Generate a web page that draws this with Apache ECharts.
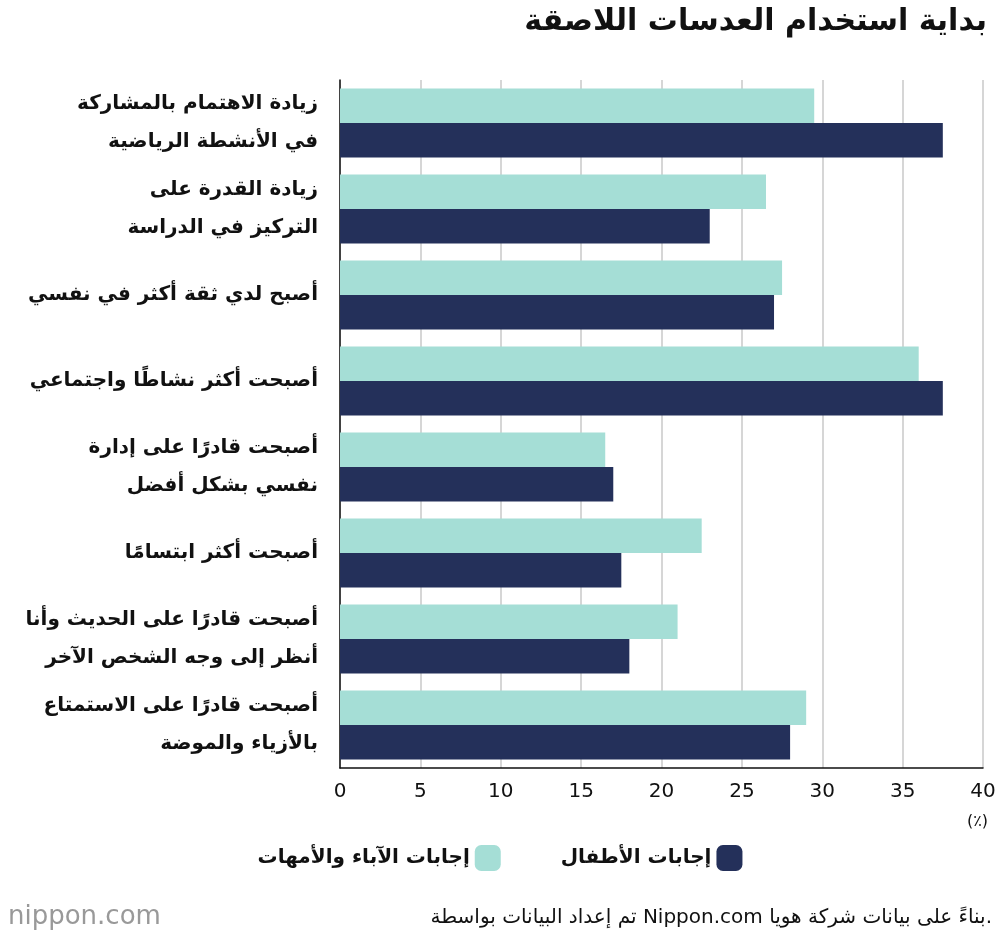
<!DOCTYPE html>
<html><head><meta charset="utf-8">
<script src="https://cdn.jsdelivr.net/npm/echarts@6/dist/echarts.min.js"></script>
<style>html,body{margin:0;background:#fff}#c{width:1000px;height:942px}</style>
</head><body><div id="c"></div>
<script>
const categories = ["زيادة الاهتمام بالمشاركة\nفي الأنشطة الرياضية","زيادة القدرة على\nالتركيز في الدراسة","أصبح لدي ثقة أكثر في نفسي","أصبحت أكثر نشاطًا واجتماعي","أصبحت قادرًا على إدارة\nنفسي بشكل أفضل","أصبحت أكثر ابتسامًا","أصبحت قادرًا على الحديث وأنا\nأنظر إلى وجه الشخص الآخر","أصبحت قادرًا على الاستمتاع\nبالأزياء والموضة"];
const parents = [29.5,26.5,27.5,36,16.5,22.5,21,29];
const children = [37.5,23,27,37.5,17,17.5,18,28];
const parentsName = "إجابات الآباء والأمهات";
const childrenName = "إجابات الأطفال";
const F = "DejaVu Sans";
const chart = echarts.init(document.getElementById('c'));
chart.setOption({
  textStyle:{fontFamily:F},
  title:{text:"بداية استخدام العدسات اللاصقة",right:8,top:2,textStyle:{fontFamily:F,fontSize:30,fontWeight:'bold',color:'#111'}},
  grid:{left:340,right:17,top:80,bottom:174},
  legend:{data:[parentsName,childrenName],bottom:66,left:'center',align:'right',itemWidth:26,itemHeight:26,itemGap:60,
    textStyle:{fontFamily:F,fontSize:20,fontWeight:'bold',color:'#111'}},
  xAxis:{type:'value',min:0,max:40,interval:5,
    axisLine:{show:true,lineStyle:{color:'#111',width:1.5}},axisTick:{show:false},
    axisLabel:{fontSize:20,color:'#111',margin:14},
    splitLine:{lineStyle:{color:'#c8c8c8',width:1.5}}},
  yAxis:{type:'category',inverse:true,data:categories,
    axisLine:{show:true,lineStyle:{color:'#111',width:1.5}},axisTick:{show:false},
    axisLabel:{fontSize:20,fontWeight:'bold',color:'#111',margin:22,lineHeight:38,align:'right'}},
  series:[
    {name:parentsName,type:'bar',data:parents,itemStyle:{color:'#a5ded6'},barGap:'0%',barCategoryGap:'20%'},
    {name:childrenName,type:'bar',data:children,itemStyle:{color:'#24305a'},barGap:'0%',barCategoryGap:'20%'}
  ],
  graphic:[
    {type:'text',right:12,top:814,style:{text:'(٪)',fontFamily:F,fontSize:16,fill:'#111'}},
    {type:'text',left:8,top:904,style:{text:'nippon.com',fontFamily:F,fontSize:26,fill:'#999'}},
    {type:'text',right:8,top:908,style:{text:'تم إعداد البيانات بواسطة Nippon.com بناءً على بيانات شركة هويا.',fontFamily:F,fontSize:20,fill:'#111'}}
  ]
});
</script></body></html>
